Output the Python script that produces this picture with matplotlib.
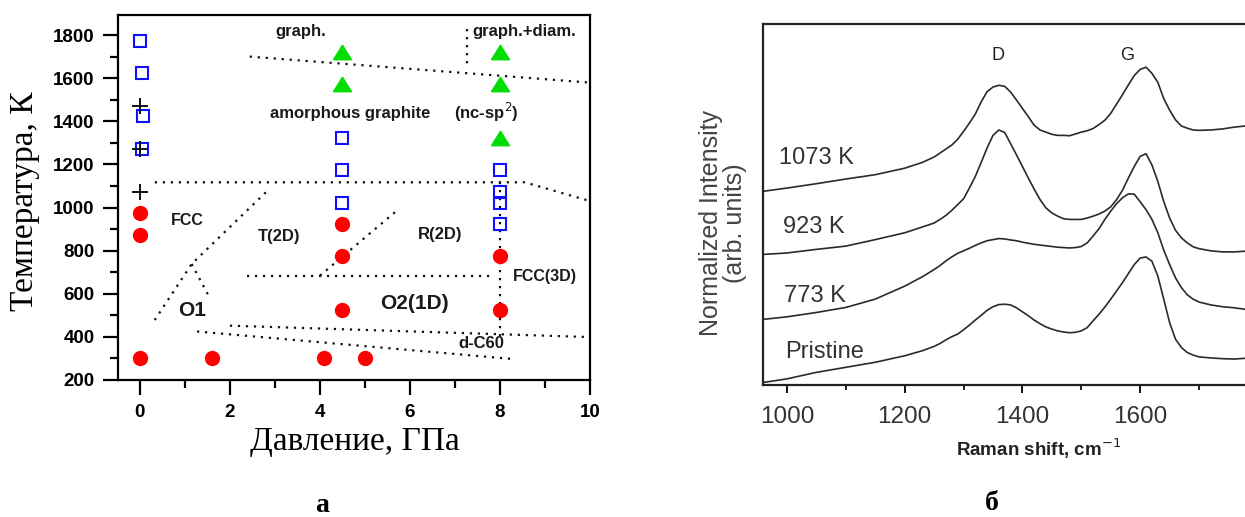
import matplotlib
matplotlib.use("Agg")
import matplotlib.pyplot as plt
from matplotlib.ticker import MultipleLocator

SANS = ["Liberation Sans", "DejaVu Sans"]
SERIF = ["Liberation Serif", "DejaVu Serif"]

# ---------------- panel (а): P-T diagram of C60 ----------------
circ_p = [0, 0, 0, 1.6, 4.1, 5.0, 4.5, 4.5, 4.5, 8.0, 8.0]
circ_t = [973, 873, 300, 300, 300, 300, 923, 773, 523, 773, 523]

sq_p = [0.0, 0.05, 0.07, 0.05, 4.5, 4.5, 4.5, 8.0, 8.0, 8.0, 8.0]
sq_t = [1773, 1623, 1423, 1273, 1323, 1173, 1023, 1173, 1073, 1023, 923]

tri_p = [4.5, 4.5, 8.0, 8.0, 8.0]
tri_t = [1723, 1573, 1723, 1573, 1323]

plus_p = [0, 0, 0]
plus_t = [1473, 1273, 1073]

# phase boundaries (pressure list, temperature list)
boundaries = [
    ([2.44, 9.96], [1700, 1580]),
    ([7.26, 7.26], [1830, 1662]),
    ([0.33, 8.55, 10.0], [1117, 1117, 1030]),
    ([0.33, 1.15, 2.81], [478, 738, 1073]),
    ([1.15, 1.56], [738, 578]),
    ([4.0, 5.7], [684, 984]),
    ([2.37, 7.85], [684, 684]),
    ([8.0, 8.0], [1118, 392]),
    ([2.0, 10.0], [452, 399]),
    ([1.27, 8.3], [425, 297]),
]

regions = [
    ("graph.", 3.57, 1817, 12),
    ("graph.+diam.", 8.53, 1817, 12),
    ("amorphous graphite", 4.67, 1436, 12),
    ("(nc-sp$^2$)", 7.69, 1440, 12),
    ("FCC", 1.05, 942, 11.5),
    ("T(2D)", 3.09, 865, 12),
    ("R(2D)", 6.66, 873, 12),
    ("FCC(3D)", 8.99, 678, 11.5),
    ("O1", 1.16, 523, 15),
    ("O2(1D)", 6.11, 554, 15),
    ("d-C60", 7.59, 368, 12),
]

# ---------------- panel (б): Raman spectra ----------------
shift = [960, 1000, 1050, 1100, 1150, 1200, 1230,
         1250, 1260, 1270, 1280, 1290, 1300, 1310, 1320, 1330, 1340,
         1350, 1360, 1370, 1380, 1390, 1400, 1410, 1420, 1430, 1440,
         1450, 1460, 1470, 1480, 1490, 1500, 1510, 1520, 1530, 1540,
         1550, 1560, 1570, 1580, 1590, 1600, 1610, 1620, 1630, 1640,
         1650, 1660, 1670, 1680, 1690, 1700,
         1720, 1740, 1760, 1778]

int_1073 = [.537, .546, .558, .571, .583, .601, .617,
            .632, .643, .654, .665, .681, .703, .726, .751, .785, .813,
            .826, .831, .828, .812, .790, .767, .744, .720, .707, .701,
            .695, .692, .692, .691, .696, .701, .705, .711, .722, .734,
            .753, .779, .805, .832, .858, .875, .881, .864, .839, .794,
            .762, .735, .718, .712, .707, .706,
            .707, .710, .715, .718]
int_923 = [.362, .366, .376, .385, .403, .422, .438,
           .449, .459, .470, .484, .500, .516, .546, .578, .617, .657,
           .692, .707, .700, .669, .638, .606, .574, .543, .514, .491,
           .477, .468, .461, .459, .459, .459, .463, .468, .474, .482,
           .494, .514, .540, .574, .606, .634, .641, .610, .564, .509,
           .463, .429, .408, .394, .383, .378,
           .372, .369, .369, .371]
int_773 = [.182, .189, .201, .215, .238, .274, .300,
           .320, .331, .344, .355, .365, .372, .379, .387, .394, .400,
           .403, .406, .405, .402, .400, .396, .393, .390, .388, .386,
           .384, .382, .381, .380, .381, .384, .394, .413, .433, .459,
           .482, .503, .519, .530, .529, .508, .486, .459, .422, .374,
           .334, .297, .270, .250, .238, .230,
           .222, .217, .214, .210]
int_pristine = [.007, .017, .035, .049, .063, .081, .095,
                .107, .115, .125, .134, .141, .153, .166, .180, .193, .207,
                .217, .223, .224, .222, .214, .203, .192, .180, .170, .161,
                .155, .150, .147, .145, .146, .150, .159, .178, .196, .216,
                .238, .261, .284, .309, .334, .352, .355, .343, .302, .238,
                .173, .127, .104, .090, .083, .078,
                .075, .073, .072, .074]

spectra = [int_1073, int_923, int_773, int_pristine]
spec_labels = ["1073 K", "923 K", "773 K", "Pristine"]
spec_label_pos = [(987, 0.629), (994, 0.438), (995, 0.247), (997, 0.092)]
band_labels = [("D", 1359, 0.914), ("G", 1577, 0.914)]

fig = plt.figure(figsize=(12.45, 5.17), dpi=100)

# ---- left panel ----
ax = fig.add_axes([0.0950, 0.2650, 0.3789, 0.7060])
for ps, ts in boundaries:
    ax.plot(ps, ts, color="#111111", lw=1.6, linestyle=(0, (1.0, 2.6)), zorder=1)

ax.plot(circ_p, circ_t, "o", ms=10, color="#ff0000", mec="#ff0000", zorder=3)
ax.plot(sq_p, sq_t, "s", ms=9, mfc="none", mec="#1010ff", mew=1.5, zorder=3)
tri_marker = [(-1, -0.8), (1, -0.8), (0, 0.8), (-1, -0.8)]
ax.plot(tri_p, tri_t, marker=tri_marker, ls="none", ms=13, color="#00dd00", zorder=3)
ax.plot(plus_p, plus_t, "+", ms=11, mew=1.4, color="#111111", zorder=4)

for txt, px, ty, fs in regions:
    ax.text(px, ty, txt, ha="center", va="center", fontsize=fs, fontweight="bold",
            family=SANS, color="#1a1a1a")

ax.set_xlim(-0.48, 10)
ax.set_ylim(200, 1893)
ax.xaxis.set_major_locator(MultipleLocator(2))
ax.xaxis.set_minor_locator(MultipleLocator(1))
ax.yaxis.set_major_locator(MultipleLocator(200))
ax.yaxis.set_minor_locator(MultipleLocator(100))
ax.tick_params(which="major", direction="out", length=11, width=1.6, pad=6,
               labelsize=13.5, top=False, right=False)
ax.tick_params(which="minor", direction="out", length=6, width=1.6, top=False, right=False)
for lab in ax.get_xticklabels() + ax.get_yticklabels():
    lab.set_fontweight("bold")
    lab.set_family(SANS)
for s in ax.spines.values():
    s.set_linewidth(1.6)

ax.text(-0.198, 0.49, "Температура, К", transform=ax.transAxes, rotation=90,
        ha="center", va="center", fontsize=24, family=SERIF)
ax.text(0.502, -0.17, "Давление, ГПа", transform=ax.transAxes,
        ha="center", va="center", fontsize=24, family=SERIF)

# ---- right panel ----
bx = fig.add_axes([0.6126, 0.2553, 0.3874, 0.6977])
for vals in spectra:
    bx.plot(shift, vals, color="#2a2a2a", lw=1.2)
for txt, (sx, sy) in zip(spec_labels, spec_label_pos):
    bx.text(sx, sy, txt, ha="left", va="center", fontsize=17, family=SANS, color="#333333")
for txt, sx, sy in band_labels:
    bx.text(sx, sy, txt, ha="center", va="center", fontsize=13, family=SANS, color="#222222")

bx.set_xlim(959, 1778)
bx.set_ylim(0, 1)
bx.spines["right"].set_visible(False)
for s in ["left", "top", "bottom"]:
    bx.spines[s].set_linewidth(1.6)
    bx.spines[s].set_color("#222222")
bx.xaxis.set_major_locator(MultipleLocator(200))
bx.xaxis.set_minor_locator(MultipleLocator(100))
bx.set_yticks([])
bx.tick_params(which="major", axis="x", direction="out", length=6, width=1.3, pad=9,
               labelsize=17.5, labelcolor="#333333", top=False)
bx.tick_params(which="minor", axis="x", direction="out", length=3.5, width=1.2, top=False)
for lab in bx.get_xticklabels():
    lab.set_family(SANS)

bx.text(-0.082, 0.449, "Normalized Intensity\n(arb. units)", transform=bx.transAxes,
        rotation=90, ha="center", va="center", fontsize=18, family=SANS,
        color="#444444", linespacing=0.98, multialignment="center")
bx.text(0.571, -0.177, "Raman shift, cm$^{-1}$", transform=bx.transAxes,
        ha="center", va="center", fontsize=13.5, fontweight="bold", family=SANS,
        color="#222222")

fig.text(322 / 1245, 1 - 505 / 517, "а", ha="center", va="center", fontsize=20,
         fontweight="bold", family=SERIF)
fig.text(992 / 1245, 1 - 503 / 517, "б", ha="center", va="center", fontsize=20,
         fontweight="bold", family=SERIF)

fig.savefig("out.png", dpi=100)
